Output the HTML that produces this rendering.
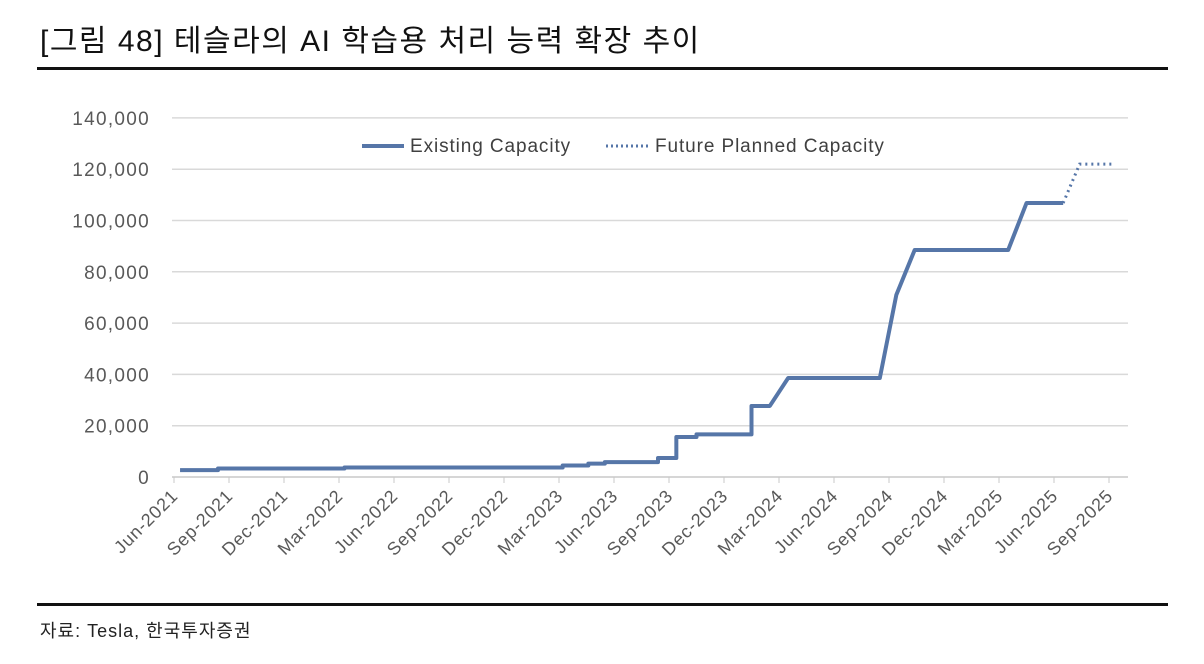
<!DOCTYPE html>
<html><head><meta charset="utf-8"><style>
body{margin:0;background:#fff;width:1204px;height:659px;overflow:hidden;font-family:"Liberation Sans","Noto Sans CJK KR",sans-serif;}
</style></head><body>
<svg width="1204" height="659" xmlns="http://www.w3.org/2000/svg">
<text x="40" y="51" font-size="30" letter-spacing="1.5" fill="#111" font-family="Liberation Sans, Noto Sans CJK KR, sans-serif">[그림 48] 테슬라의 AI 학습용 처리 능력 확장 추이</text>
<rect x="37" y="67" width="1131" height="3" fill="#111"/>
<rect x="37" y="603" width="1131" height="3" fill="#111"/>
<text x="40" y="637" font-size="18" letter-spacing="1" fill="#222">자료: Tesla,  한국투자증권</text>
<g id="grid"></g><g id="yax"></g><g id="xax"></g><g id="series"></g>
<g>
<line x1="362" y1="146" x2="404" y2="146" stroke="#5676a8" stroke-width="4"/>
<text x="410" y="152" font-size="19" letter-spacing="0.9" fill="#404040">Existing Capacity</text>
<line x1="606" y1="146" x2="648" y2="146" stroke="#5676a8" stroke-width="3" stroke-dasharray="2,3"/>
<text x="655" y="152" font-size="19" letter-spacing="0.9" fill="#404040">Future Planned Capacity</text>
</g>
</svg>
<script>
const xLabels=["Jun-2021","Sep-2021","Dec-2021","Mar-2022","Jun-2022","Sep-2022","Dec-2022","Mar-2023","Jun-2023","Sep-2023","Dec-2023","Mar-2024","Jun-2024","Sep-2024","Dec-2024","Mar-2025","Jun-2025","Sep-2025"];
const yTicks=[0,20000,40000,60000,80000,100000,120000,140000];
const existMonths=[0.33,2.4,2.4,9.3,9.3,21.2,21.2,22.6,22.6,23.5,23.5,26.4,26.4,27.4,27.4,28.5,28.5,31.5,31.5,32.5,33.5,38.5,39.4,40.4,45.5,46.5,48.5];
const existValues=[2700,2700,3300,3300,3700,3700,4500,4500,5200,5200,5800,5800,7400,7400,15600,15600,16600,16600,27700,27700,38600,38600,71000,88500,88500,106800,106800];
const futureMonths=[48.5,49.4,51.3];
const futureValues=[106800,122000,122000];
const NS="http://www.w3.org/2000/svg";
const X0=174,XS=55/3,Y0=477,YS=51.3/20000,PL=172,PR=1128;
const xs=m=>X0+m*XS, ys=v=>Y0-v*YS;
function mk(t,a,p){const e=document.createElementNS(NS,t);for(const k in a)e.setAttribute(k,a[k]);p.appendChild(e);return e;}
const g=document.getElementById('grid'),ya=document.getElementById('yax'),xa=document.getElementById('xax'),s=document.getElementById('series');
yTicks.forEach(v=>{
 const l=mk('line',{x1:PL,x2:PR,y1:ys(v),y2:ys(v),stroke:v===0?'#c8c8c8':'#d9d9d9','stroke-width':1.5},g);
 
 
 const t=mk('text',{x:150,y:ys(v)+7,'text-anchor':'end','font-size':19,'letter-spacing':1.3,fill:'#595959'},ya);
 t.textContent=v.toLocaleString('en-US');
 
 
});
xLabels.forEach((lab,i)=>{
 const x=xs(i*3);
 const tk=mk('line',{x1:x,x2:x,y1:Y0,y2:Y0+6,stroke:'#c8c8c8','stroke-width':1},xa);
 
 
 const t=mk('text',{x:x+5,y:Y0+20,'text-anchor':'end','font-size':18,'letter-spacing':0.8,fill:'#595959',transform:`rotate(-45 ${x+5} ${Y0+20})`},xa);
 t.textContent=lab;
 
 
});
const pe=mk('polyline',{points:existMonths.map((m,i)=>xs(m)+','+ys(existValues[i])).join(' '),fill:'none',stroke:'#5676a8','stroke-width':4,'stroke-linejoin':'round'},s);


const pf=mk('polyline',{points:futureMonths.map((m,i)=>xs(m)+','+ys(futureValues[i])).join(' '),fill:'none',stroke:'#5676a8','stroke-width':3,'stroke-dasharray':'2,4'},s);


</script>
</body></html>
